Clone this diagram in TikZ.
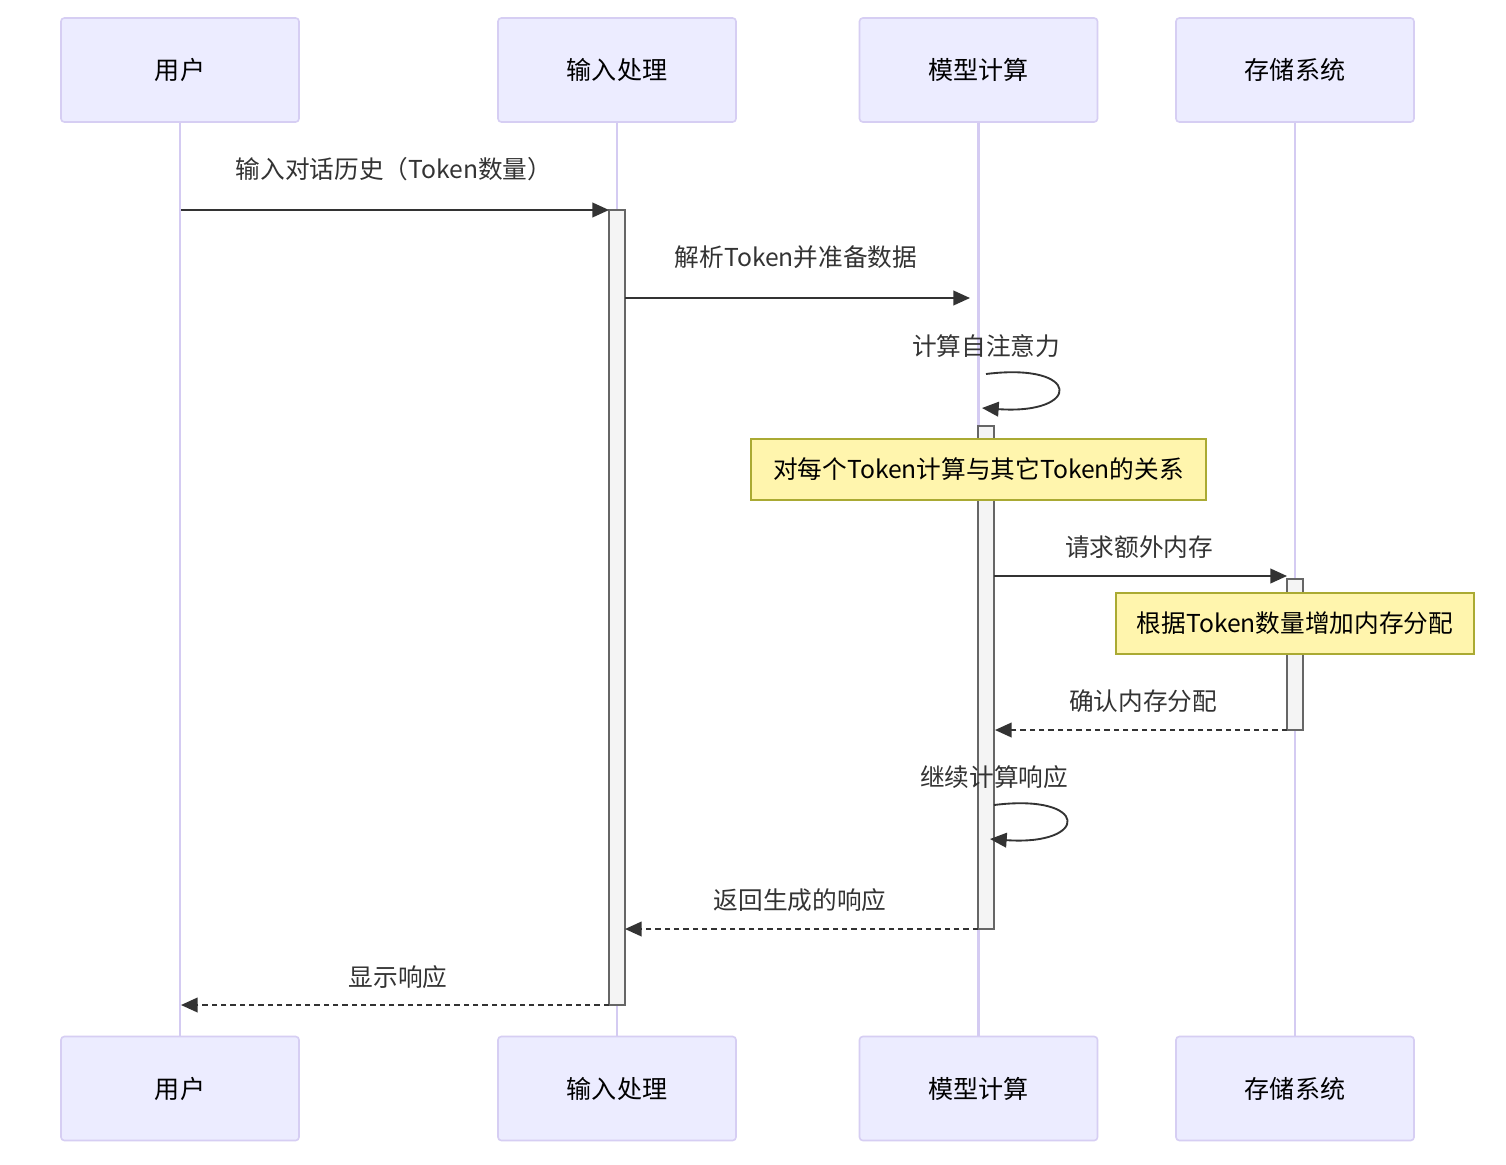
\documentclass[tikz,border=0pt]{standalone}
\usepackage{fontspec}
\setmainfont{Noto Sans CJK SC}
\usetikzlibrary{arrows.meta}
\definecolor{actorfill}{HTML}{ECECFF}
\definecolor{actorline}{HTML}{D6CEF3}
\definecolor{lifeline}{HTML}{D4CBF2}
\definecolor{actfill}{HTML}{F4F4F4}
\definecolor{actline}{HTML}{666666}
\definecolor{notefill}{HTML}{FFF5AD}
\definecolor{noteline}{HTML}{AAAA33}
\definecolor{msgline}{HTML}{333333}
\tikzset{
  actorbox/.style={draw=actorline, fill=actorfill, line width=1.2pt, rounded corners=2.5pt,
    minimum width=178.5pt, minimum height=78pt, font=\fontsize{18.8pt}{21pt}\selectfont, text=black, inner sep=0pt},
  lifelinestyle/.style={draw=lifeline, line width=1.7pt},
  actbar/.style={draw=actline, fill=actfill, line width=0.9pt, minimum width=12pt, inner sep=0pt},
  notebox/.style={draw=noteline, fill=notefill, line width=0.9pt, inner sep=0pt,
    minimum height=45.75pt, font=\fontsize{18.5pt}{21pt}\selectfont, text=black},
  msglabel/.style={font=\fontsize{18.5pt}{21pt}\selectfont, text=msgline, inner sep=0pt},
  msg/.style={draw=msgline, line width=1.4pt, -{Triangle[length=12.5pt,width=11pt]}},
  reply/.style={msg, dash pattern=on 4pt off 3pt},
}
\begin{document}
\begin{tikzpicture}[x=0.75pt,y=-0.75pt]
\useasboundingbox (0,0) rectangle (1506,1164);
\fill[white] (0,0) rectangle (1506,1164);

% actors top and bottom
\node[actorbox] (uT) at (180,70) {用户};
\node[actorbox] (iT) at (617,70) {输入处理};
\node[actorbox] (mT) at (978.5,70) {模型计算};
\node[actorbox] (sT) at (1295,70) {存储系统};
\node[actorbox] (uB) at (180,1088.5) {用户};
\node[actorbox] (iB) at (617,1088.5) {输入处理};
\node[actorbox] (mB) at (978.5,1088.5) {模型计算};
\node[actorbox] (sB) at (1295,1088.5) {存储系统};

% lifelines
\draw[lifelinestyle] (uT.south) -- (uB.north);
\draw[lifelinestyle] (iT.south) -- (iB.north);
\draw[lifelinestyle] (mT.south) -- (mB.north);
\draw[lifelinestyle] (sT.south) -- (sB.north);

% activation bars
\node[actbar, minimum height=596.25pt] (aI) at (617,607.5) {};
\node[actbar, minimum height=377.25pt] (aM) at (986,677.5) {};
\node[actbar, minimum height=113.25pt] (aS) at (1295,654.5) {};

% notes
\node[notebox, minimum width=341.25pt] (n1) at (978.5,469.5) {对每个Token计算与其它Token的关系};
\node[notebox, minimum width=268.5pt] (n2) at (1295,623.5) {根据Token数量增加内存分配};

% endpoints
\coordinate (m1s) at (181,210);
\coordinate (m1e) at (609,210);
\coordinate (m2s) at (625,298);
\coordinate (m2e) at (970,298);
\coordinate (l1s) at (986,374);
\coordinate (l1e) at (982,408);
\coordinate (m3s) at (994,576);
\coordinate (m3e) at (1287,576);
\coordinate (m4s) at (1287,730);
\coordinate (m4e) at (995,730);
\coordinate (l2s) at (994,805);
\coordinate (l2e) at (990,839);
\coordinate (m5s) at (978,929);
\coordinate (m5e) at (625,929);
\coordinate (m6s) at (609,1005);
\coordinate (m6e) at (181,1005);

% messages
\draw[msg] (m1s) -- (m1e);
\node[msglabel] (t1) at (394,169) {输入对话历史（Token数量）};
\draw[msg] (m2s) -- (m2e);
\node[msglabel] (t2) at (796,257) {解析Token并准备数据};
\node[msglabel] (t3) at (986,346) {计算自注意力};
\draw[msg] (l1s) .. controls (1082,362) and (1082,415) .. (l1e);
\draw[msg] (m3s) -- (m3e);
\node[msglabel] (t4) at (1139,547) {请求额外内存};
\draw[reply] (m4s) -- (m4e);
\node[msglabel] (t5) at (1143,701) {确认内存分配};
\node[msglabel] (t6) at (994,777) {继续计算响应};
\draw[msg] (l2s) .. controls (1090,793) and (1090,846) .. (l2e);
\draw[reply] (m5s) -- (m5e);
\node[msglabel] (t7) at (800,900) {返回生成的响应};
\draw[reply] (m6s) -- (m6e);
\node[msglabel] (t8) at (398,977) {显示响应};
\end{tikzpicture}
\end{document}
